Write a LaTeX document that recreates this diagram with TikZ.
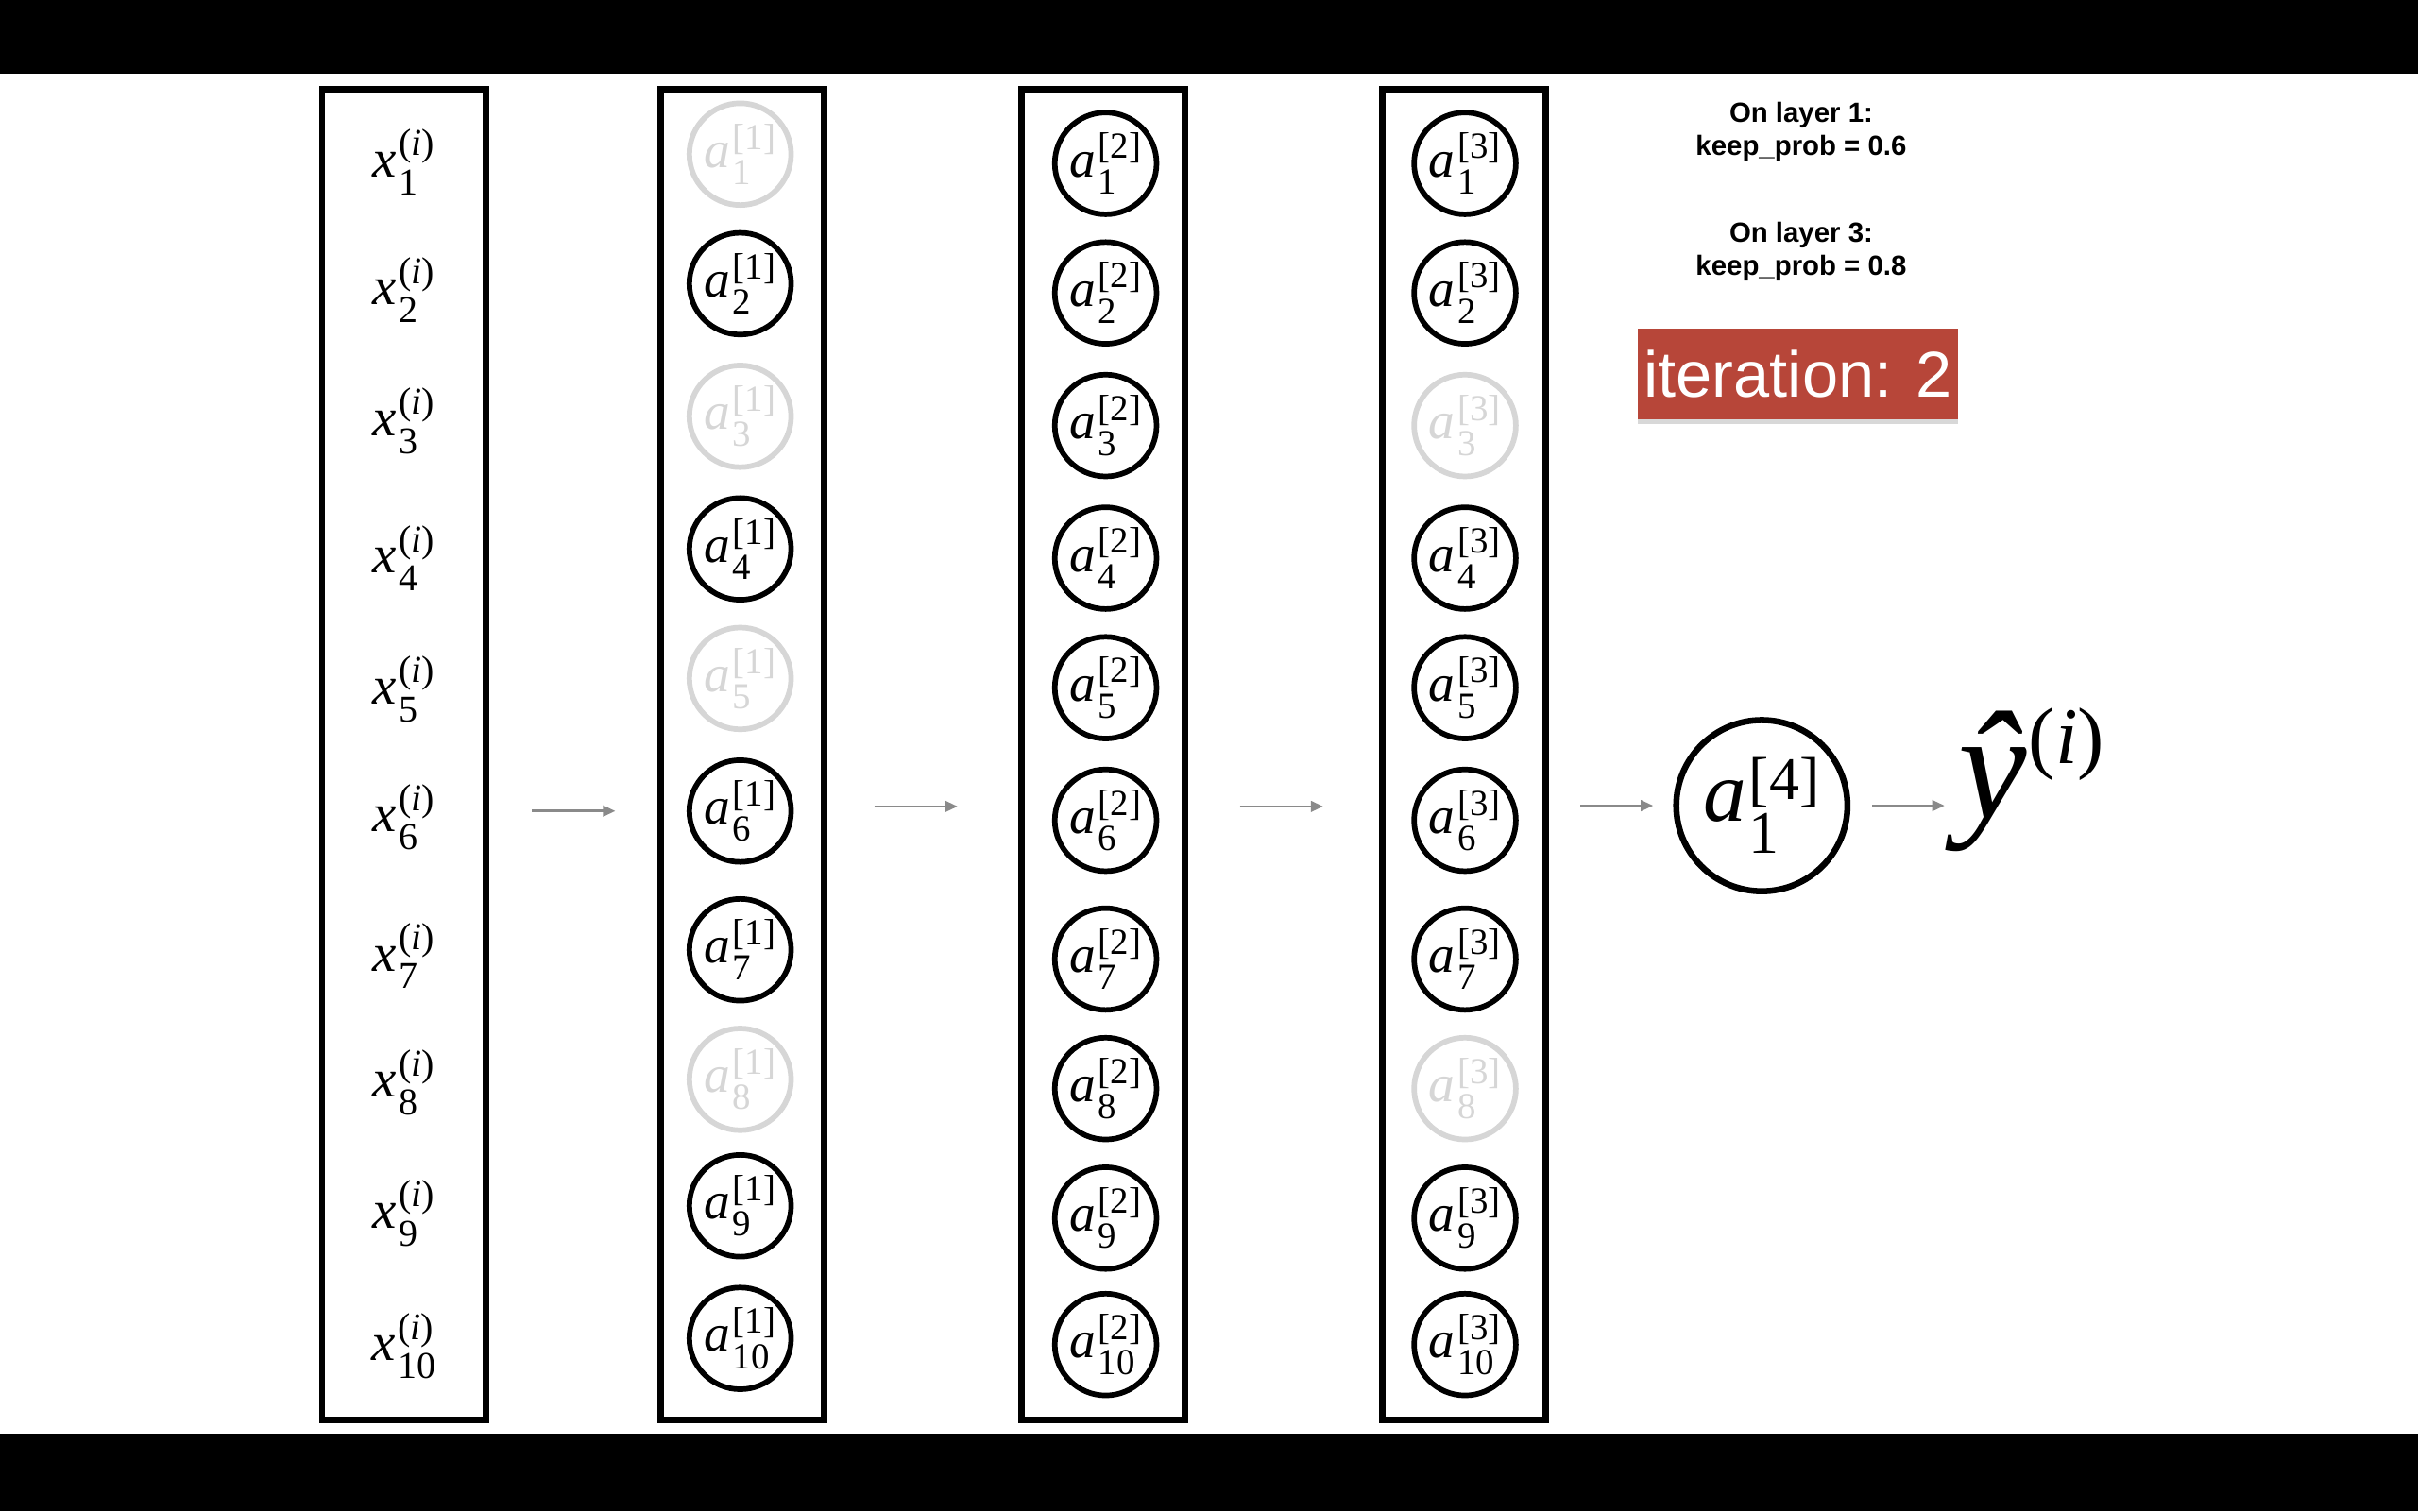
\documentclass[tikz,border=0pt]{standalone}
\usepackage{amsmath}
\usepackage{fontspec}
\setmainfont{Liberation Serif}
\newfontfamily\hsans{Liberation Sans}
\usetikzlibrary{arrows.meta,shadows}
\definecolor{dropgray}{RGB}{214,214,214}
\definecolor{arrgray}{RGB}{138,138,138}
\definecolor{itred}{RGB}{183,70,57}
\newcommand\nlab[3]{$\textit{#1}\kern1.5pt^{\text{#2}}_{\text{#3}}$}
\begin{document}
\begin{tikzpicture}[x=1pt,y=-1pt,
  layerbox/.style={draw=black,line width=4pt,rectangle,inner sep=0pt,minimum width=106pt,minimum height=863pt},
  xlab/.style={inner sep=0pt,font=\fontsize{35}{40}\selectfont},
  neuron/.style={circle,draw=#1,text=#1,line width=3.5pt,minimum size=66pt,inner sep=0pt,font=\fontsize{34}{40}\selectfont},
  outnode/.style={circle,draw=black,line width=4pt,minimum size=111pt,inner sep=0pt,font=\fontsize{56}{62}\selectfont},
  arr/.style={draw=arrgray,line width=1.6pt,-{Triangle[length=8pt,width=7pt]}},
  note/.style={align=center,inner sep=0pt,font=\hsans\bfseries\fontsize{18}{21.5}\selectfont},
  iter/.style={rectangle,fill=itred,text=white,minimum width=208pt,minimum height=59pt,inner sep=0pt,
    font=\hsans\fontsize{42}{46}\selectfont,drop shadow={shadow xshift=0pt,shadow yshift=-3pt,opacity=0.3}}]
\useasboundingbox (0,0) rectangle (1568,980);
\fill[white] (0,0) rectangle (1568,980);
\fill[black] (0,0) rectangle (1568,48);
\fill[black] (0,930) rectangle (1568,980);
% layer boxes
\node[layerbox] (box1) at (262,489.5) {};
\node[layerbox] (box2) at (481.5,489.5) {};
\node[layerbox] (box3) at (715.5,489.5) {};
\node[layerbox] (box4) at (949.5,489.5) {};
% inputs
\foreach \i/\y in {1/105,2/188,3/273,4/362,5/447,6/530,7/620,8/702,9/787,10/873}
  \node[xlab] (x\i) at (262,\y) {\nlab{x}{(\textit{i})}{\i}};
% layer 1
\foreach \i/\y/\c in {1/100/dropgray,2/184/black,3/270/dropgray,4/356/black,5/440/dropgray,6/526/black,7/616/black,8/700/dropgray,9/782/black,10/868/black}
  \node[neuron=\c] (p\i) at (480,\y) {\nlab{a}{[1]}{\i}};
% layer 2
\foreach \i/\y in {1/106,2/190,3/276,4/362,5/446,6/532,7/622,8/706,9/790,10/872}
  \node[neuron=black] (q\i) at (717,\y) {\nlab{a}{[2]}{\i}};
% layer 3
\foreach \i/\y/\c in {1/106/black,2/190/black,3/276/dropgray,4/362/black,5/446/black,6/532/black,7/622/black,8/706/dropgray,9/790/black,10/872/black}
  \node[neuron=\c] (r\i) at (950,\y) {\nlab{a}{[3]}{\i}};
% output
\node[outnode] (out) at (1142.5,522.5) {\nlab{a}{[4]}{1}};
\node[inner sep=0pt,anchor=base west] (yhat) at (1270,531)
  {\fontsize{100}{104}\selectfont\itshape ŷ\kern1pt\raisebox{36pt}{\fontsize{52}{56}\selectfont\upshape(\textit{i})}};
\coordinate (yin) at (1261,522.5);
% arrows
\draw[arr] ([xshift=28pt,yshift=-36.5pt]box1.east) -- ([xshift=-27.5pt,yshift=-36.5pt]box2.west);
\draw[arr] ([xshift=30.5pt,yshift=-33.5pt]box2.east) -- ([xshift=-39.5pt,yshift=-33.5pt]box3.west);
\draw[arr] ([xshift=33.5pt,yshift=-33.5pt]box3.east) -- ([xshift=-36.5pt,yshift=-33.5pt]box4.west);
\draw[arr,shorten <=20.5pt,shorten >=13pt] (box4.east |- out) -- (out);
\draw[arr,shorten <=14pt] (out) -- (yin);
% notes
\node[note] (n1) at (1168,85.5) {On layer 1:\\keep\_prob = 0.6};
\node[note] (n3) at (1168,163) {On layer 3:\\keep\_prob = 0.8};
\node[iter] (it) at (1166,242.5) {iteration: 2};
\end{tikzpicture}
\end{document}
